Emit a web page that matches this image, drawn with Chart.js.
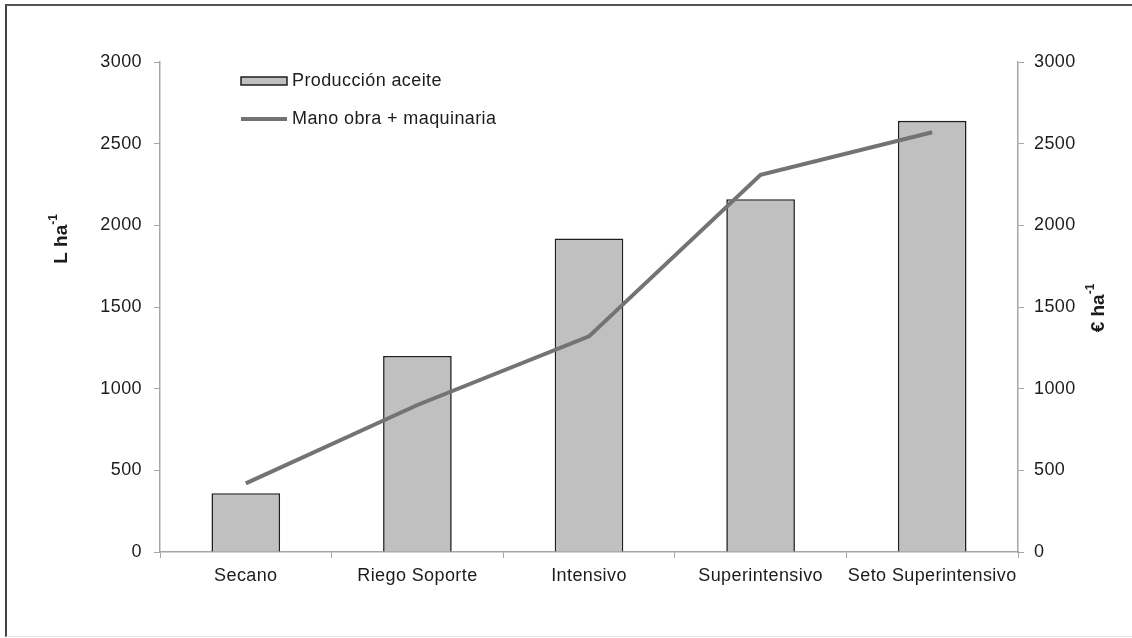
<!DOCTYPE html>
<html lang="es">
<head>
<meta charset="utf-8">
<title>Producción de aceite y costes</title>
<script src="https://cdn.jsdelivr.net/npm/chart.js@4/dist/chart.umd.min.js"></script>
<style>
  html, body { margin: 0; padding: 0; background: #fff; }
  #wrap { position: relative; width: 1132px; height: 638px; overflow: hidden; }
  #frame {
    position: absolute; left: 5px; top: 4px; width: 1140px; height: 630px;
    border-left: 2px solid #444; border-top: 2px solid #555; border-bottom: 1px solid #e6e6e6;
    pointer-events: none;
  }
  #chart { position: absolute; left: 0; top: 0; }
</style>
</head>
<body>
<div id="wrap">
  <canvas id="chart" width="1132" height="638"></canvas>
  <div id="frame"></div>
</div>
<script>
const categories = ["Secano", "Riego Soporte", "Intensivo", "Superintensivo", "Seto Superintensivo"];
const produccionAceite = [360, 1200, 1920, 2160, 2640];   // L ha-1
const manoObraMaquinaria = [420, 900, 1320, 2310, 2570];  // € ha-1
const yTicks = [0, 500, 1000, 1500, 2000, 2500, 3000];

const FONT = "'Liberation Sans', Arial, sans-serif";
const TEXT = "#1c1c1c";
const AXIS = "#a6a6a6";

// slightly wider text, like the original export
const spacing = {
  id: "spacing",
  beforeDraw(chart) { chart.ctx.letterSpacing = "0.4px"; }
};

// axis titles and the in-plot legend
const decorations = {
  id: "decorations",
  afterDraw(chart) {
    const { ctx } = chart;
    ctx.save();
    ctx.letterSpacing = "0px";
    ctx.fillStyle = TEXT;
    ctx.textBaseline = "middle";

    const drawTitle = (x, y, main) => {
      ctx.save();
      ctx.translate(x, y);
      ctx.rotate(-Math.PI / 2);
      ctx.font = `bold 19px ${FONT}`;
      const w1 = ctx.measureText(main).width;
      ctx.font = `bold 12px ${FONT}`;
      const w2 = ctx.measureText("-1").width;
      const start = -(w1 + w2) / 2;
      ctx.font = `bold 19px ${FONT}`;
      ctx.textAlign = "left";
      ctx.fillText(main, start, 0);
      ctx.font = `bold 12px ${FONT}`;
      ctx.fillText("-1", start + w1, -8);
      ctx.restore();
    };
    drawTitle(62, 239, "L ha");
    drawTitle(1099, 308, "€ ha");

    // legend
    const bars = chart.data.datasets.find(d => d.type === "bar");
    const line = chart.data.datasets.find(d => d.type === "line");
    ctx.letterSpacing = "0.4px";
    ctx.font = `18px ${FONT}`;
    ctx.textAlign = "left";
    ctx.fillStyle = bars.backgroundColor;
    ctx.strokeStyle = bars.borderColor;
    ctx.lineWidth = 1.5;
    ctx.fillRect(241, 77, 46, 8);
    ctx.strokeRect(241, 77, 46, 8);
    ctx.fillStyle = TEXT;
    ctx.fillText(bars.label, 292, 81);

    ctx.strokeStyle = line.borderColor;
    ctx.lineWidth = line.borderWidth;
    ctx.beginPath();
    ctx.moveTo(241, 119);
    ctx.lineTo(287, 119);
    ctx.stroke();
    ctx.fillText(line.label, 292, 119);
    ctx.restore();
  }
};

const tickFont = { family: FONT, size: 18 };

new Chart(document.getElementById("chart"), {
  data: {
    labels: categories,
    datasets: [
      {
        type: "line",
        label: "Mano obra + maquinaria",
        data: manoObraMaquinaria,
        yAxisID: "y2",
        borderColor: "#737373",
        borderWidth: 4,
        pointRadius: 0,
        tension: 0,
        order: 0
      },
      {
        type: "bar",
        label: "Producción aceite",
        data: produccionAceite,
        yAxisID: "y",
        backgroundColor: "#c0c0c0",
        borderColor: "#1f1f1f",
        borderWidth: 1.6,
        barPercentage: 0.4,
        categoryPercentage: 1,
        order: 1
      }
    ]
  },
  options: {
    responsive: false,
    animation: false,
    layout: { padding: { top: 62, left: 0, right: 0, bottom: 0 } },
    plugins: { legend: { display: false }, tooltip: { enabled: false } },
    scales: {
      x: {
        offset: true,
        grid: { offset: true, drawOnChartArea: false, drawTicks: true, tickLength: 6, color: AXIS },
        border: { display: true, color: AXIS, width: 1.5 },
        ticks: { color: TEXT, font: tickFont, padding: 7, maxRotation: 0 },
        afterFit: s => { s.height = 86; }
      },
      y: {
        position: "left",
        min: 0, max: 3000,
        grid: { drawOnChartArea: false, drawTicks: true, tickLength: 6, color: AXIS },
        border: { display: true, color: AXIS, width: 1.5 },
        afterBuildTicks: s => { s.ticks = yTicks.map(v => ({ value: v })); },
        ticks: { color: TEXT, font: tickFont, padding: 12, callback: v => String(v) },
        afterFit: s => { s.width = 160; }
      },
      y2: {
        position: "right",
        min: 0, max: 3000,
        grid: { drawOnChartArea: false, drawTicks: true, tickLength: 6, color: AXIS },
        border: { display: true, color: AXIS, width: 1.5 },
        afterBuildTicks: s => { s.ticks = yTicks.map(v => ({ value: v })); },
        ticks: { color: TEXT, font: tickFont, padding: 10, callback: v => String(v) },
        afterFit: s => { s.width = 114; }
      }
    }
  },
  plugins: [spacing, decorations]
});
</script>
</body>
</html>
